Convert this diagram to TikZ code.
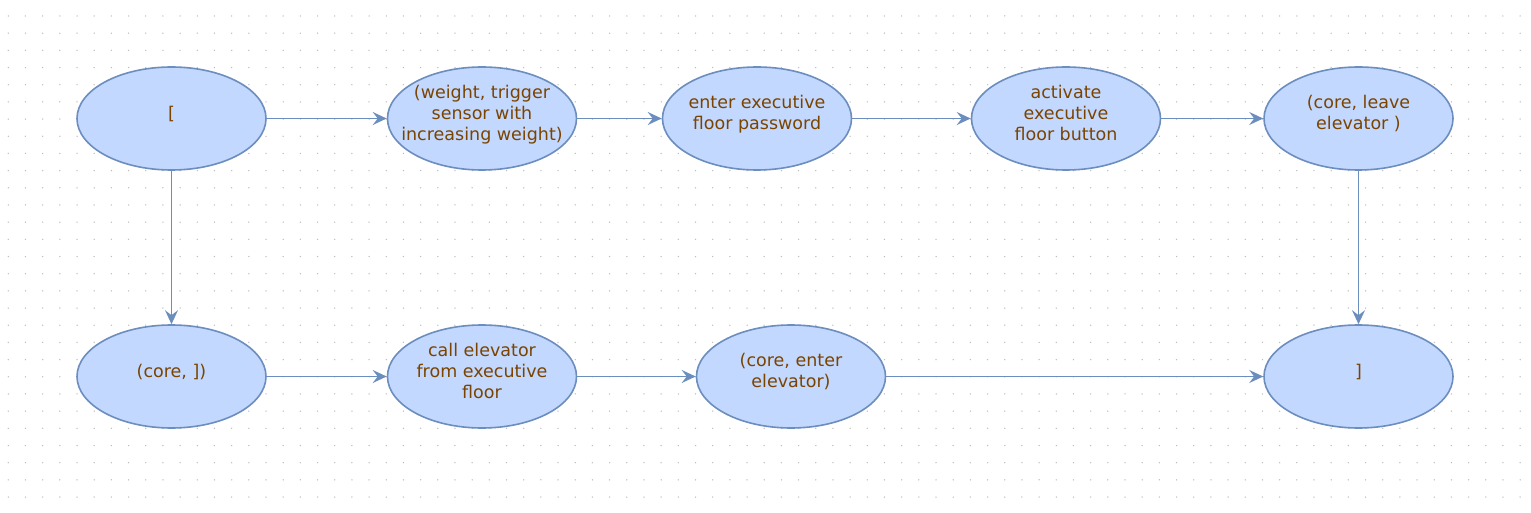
\documentclass[tikz,border=0pt]{standalone}
\usepackage{fontspec}
\setmainfont{DejaVu Sans}
\usetikzlibrary{shapes.geometric}
\usetikzlibrary{arrows.meta}
\definecolor{edgeblue}{RGB}{108,142,191}
\definecolor{fillblue}{RGB}{195,216,254}
\definecolor{textbrown}{RGB}{122,68,0}
\definecolor{griddot}{RGB}{190,190,190}
\tikzstyle{state}=[ellipse, draw=edgeblue, fill=fillblue, line width=1.6pt, inner xsep=-25pt, inner ysep=0pt,
    minimum width=189pt, minimum height=103pt, text=textbrown, align=center,
    font=\fontsize{17.5}{21}\selectfont, execute at end node={\rule[-12pt]{0pt}{0pt}}]
\tikzstyle{flow}=[draw=edgeblue, line width=1.6pt, -{Stealth[length=14pt, width=13pt, inset=5pt]}]

\begin{document}
\begin{tikzpicture}[x=1pt, y=-1pt]
        \useasboundingbox[fill=white] (0,0) rectangle (1531,513);
        % dotted page grid
        \foreach \i in {0,...,88}
            \foreach \j in {0,...,28}
                \fill[griddot] (8.3+17.18*\i, 16+17.18*\j) circle (0.75pt);
        % top row
        \node[state] (open)   at (171.5, 118.5) {[};
        \node[state] (weight) at (482, 118.5)   {(weight, trigger\\ sensor with\\ increasing weight)};
        \node[state] (passwd) at (757, 118.5)   {enter executive\\ floor password};
        \node[state] (button) at (1066, 118.5)  {activate\\ executive\\ floor button};
        \node[state] (leave)  at (1358.5, 118.5) {(core, leave\\ elevator )};
        % bottom row
        \node[state] (core)   at (171.5, 376.5) {(core, ])};
        \node[state] (call)   at (482, 376.5)   {call elevator\\ from executive\\ floor};
        \node[state] (enter)  at (791, 376.5)   {(core, enter\\ elevator)};
        \node[state] (close)  at (1358.5, 376.5) {]};
        \draw[flow] (open) -- (weight);
        \draw[flow] (weight) -- (passwd);
        \draw[flow] (passwd) -- (button);
        \draw[flow] (button) -- (leave);
        \draw[flow] (leave) -- (close);
        \draw[flow] (open) -- (core);
        \draw[flow] (core) -- (call);
        \draw[flow] (call) -- (enter);
        \draw[flow] (enter) -- (close);
    \end{tikzpicture}
\end{document}
